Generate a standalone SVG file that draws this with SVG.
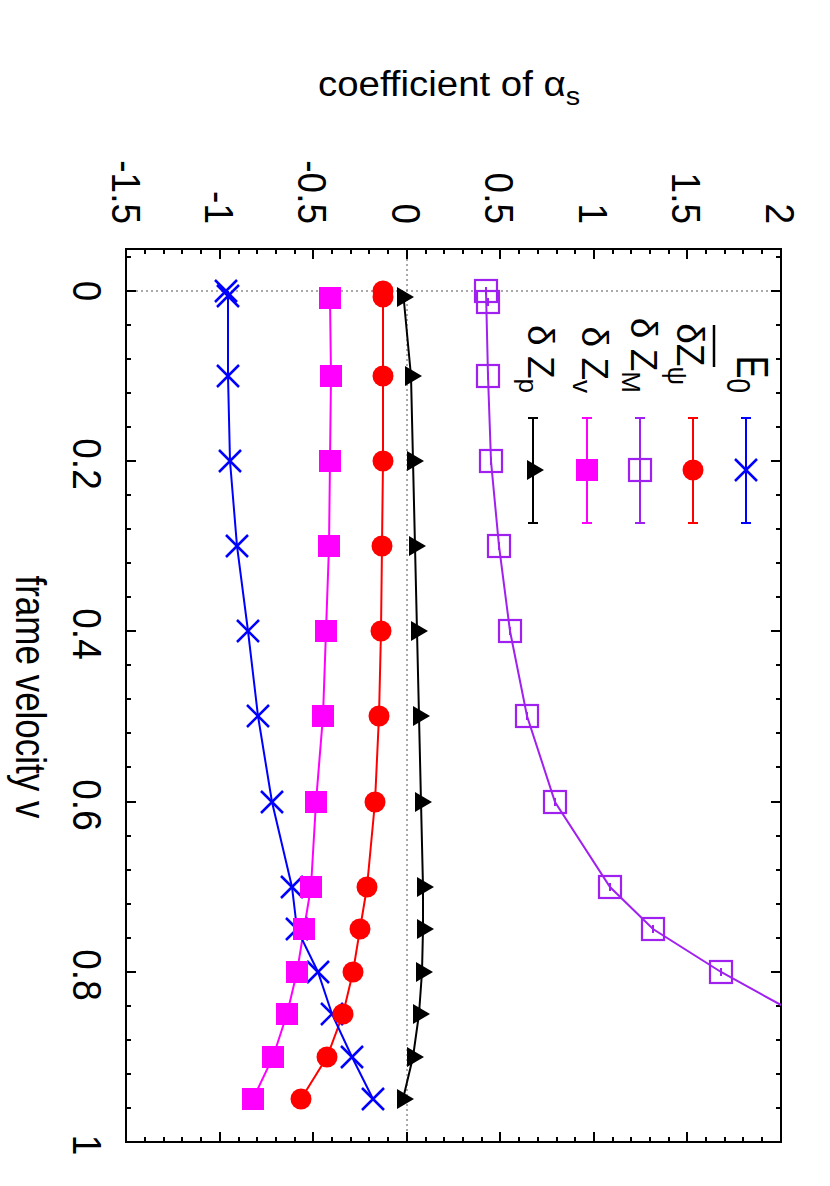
<svg xmlns="http://www.w3.org/2000/svg" width="830" height="1186" viewBox="0 0 830 1186">
<style>
text{font-family:"Liberation Sans",Arial,sans-serif;fill:#000}
.t{font-size:37px}
.lg{font-size:37px}
.ax{stroke:#000;stroke-width:2;fill:none}
.dot{stroke:#555;stroke-width:1;stroke-dasharray:2,3;fill:none}
.ln{fill:none;stroke-width:2}
</style>
<defs>
<path id="xm" d="M-11,-11L11,11M-11,11L11,-11" stroke="#0000ff" stroke-width="2.5" fill="none"/>
<circle id="ci" r="10.5" fill="#ff0000"/>
<rect id="sq" x="-11" y="-11" width="22" height="22" fill="#ff00ff"/>
<g id="os"><rect x="-11" y="-11" width="22" height="22" fill="none" stroke="#a020f0" stroke-width="2.2"/><path d="M0,-4V4" stroke="#a020f0" stroke-width="2"/></g>
<path id="tr" d="M-6,-10L-6,10L11,0Z" fill="#000"/>
</defs>
<g id="frame">
<rect class="ax" x="126" y="249" width="655" height="893"/>
<path class="dot" d="M126,291H781M407,249V1142"/>
<path class="ax" d="M126,291h10M126,461h10M126,631h10M126,802h10M126,972h10M781,291h-10M781,461h-10M781,631h-10M781,802h-10M781,972h-10
M126,257h5M126,325h5M126,359h5M126,393h5M126,427h5M126,495h5M126,529h5M126,563h5M126,597h5M126,665h5M126,699h5M126,733h5M126,767h5M126,836h5M126,870h5M126,904h5M126,938h5M126,1006h5M126,1040h5M126,1074h5M126,1108h5
M781,257h-5M781,325h-5M781,359h-5M781,393h-5M781,427h-5M781,495h-5M781,529h-5M781,563h-5M781,597h-5M781,665h-5M781,699h-5M781,733h-5M781,767h-5M781,836h-5M781,870h-5M781,904h-5M781,938h-5M781,1006h-5M781,1040h-5M781,1074h-5M781,1108h-5
M220,249v10M313,249v10M407,249v10M500,249v10M594,249v10M687,249v10M220,1142v-10M313,1142v-10M407,1142v-10M500,1142v-10M594,1142v-10M687,1142v-10
M145,249v5M164,249v5M182,249v5M201,249v5M239,249v5M257,249v5M276,249v5M295,249v5M332,249v5M351,249v5M369,249v5M388,249v5M426,249v5M444,249v5M463,249v5M482,249v5M519,249v5M538,249v5M557,249v5M575,249v5M613,249v5M631,249v5M650,249v5M669,249v5M706,249v5M725,249v5M743,249v5M762,249v5
M145,1142v-5M164,1142v-5M182,1142v-5M201,1142v-5M239,1142v-5M257,1142v-5M276,1142v-5M295,1142v-5M332,1142v-5M351,1142v-5M369,1142v-5M388,1142v-5M426,1142v-5M444,1142v-5M463,1142v-5M482,1142v-5M519,1142v-5M538,1142v-5M557,1142v-5M575,1142v-5M613,1142v-5M631,1142v-5M650,1142v-5M669,1142v-5M706,1142v-5M725,1142v-5M743,1142v-5M762,1142v-5"/>
</g>
<g id="ticklabels" class="t">
<text transform="translate(73,291) scale(1.1,1) rotate(90)" text-anchor="middle">0</text>
<text transform="translate(73,464) scale(1.1,1) rotate(90)" text-anchor="middle">0.2</text>
<text transform="translate(73,634) scale(1.1,1) rotate(90)" text-anchor="middle">0.4</text>
<text transform="translate(73,805) scale(1.1,1) rotate(90)" text-anchor="middle">0.6</text>
<text transform="translate(73,975) scale(1.1,1) rotate(90)" text-anchor="middle">0.8</text>
<text transform="translate(73,1145) scale(1.1,1) rotate(90)" text-anchor="middle">1</text>
<text transform="translate(112,224) scale(1.1,1) rotate(90)" text-anchor="end">-1.5</text>
<text transform="translate(205,224) scale(1.1,1) rotate(90)" text-anchor="end">-1</text>
<text transform="translate(298,224) scale(1.1,1) rotate(90)" text-anchor="end">-0.5</text>
<text transform="translate(392,224) scale(1.1,1) rotate(90)" text-anchor="end">0</text>
<text transform="translate(485,224) scale(1.1,1) rotate(90)" text-anchor="end">0.5</text>
<text transform="translate(579,224) scale(1.1,1) rotate(90)" text-anchor="end">1</text>
<text transform="translate(672,224) scale(1.1,1) rotate(90)" text-anchor="end">1.5</text>
<text transform="translate(766,224) scale(1.1,1) rotate(90)" text-anchor="end">2</text>
</g>
<g id="axislabels">
<text transform="translate(318,96) scale(1.2,1.1)" font-size="32">coefficient of α<tspan font-size="24" dy="8">s</tspan></text>
<text transform="translate(16,697) scale(1.2,1) rotate(90)" text-anchor="middle" font-size="35">frame velocity v</text>
</g>
<g id="connectors">
<polyline class="ln" stroke="#a020f0" points="486,291 488,376 491,461 499,546 510,631 527,716 555,802 610,887 653,929 721,972 781,1005"/>
<polyline class="ln" stroke="#000" points="403,291 411,376 413,461 415,546 417,631 419,716 421,802 423,887 423,929 422,972 419,1014 413,1057 403,1099"/>
<polyline class="ln" stroke="#ff0000" points="383,291 383,376 383,461 382,546 381,631 379,716 375,802 367,887 360,929 353,972 343,1014 327,1057 301,1099"/>
<polyline class="ln" stroke="#ff00ff" points="330,298 331,376 330,461 329,546 326,631 323,716 316,802 311,887 304,929 297,972 287,1014 273,1057 253,1099"/>
<polyline class="ln" stroke="#0000ff" points="228,291 228,376 230,461 237,546 248,631 258,716 272,802 292,887 297,929 318,972 332,1014 352,1057 373,1099"/>
</g>
<g id="series-E0">
<use href="#xm" x="226" y="291"/><use href="#xm" x="228" y="296"/><use href="#xm" x="228" y="376"/><use href="#xm" x="230" y="461"/><use href="#xm" x="237" y="546"/><use href="#xm" x="248" y="631"/><use href="#xm" x="258" y="716"/><use href="#xm" x="272" y="802"/><use href="#xm" x="292" y="887"/><use href="#xm" x="297" y="929"/><use href="#xm" x="318" y="972"/><use href="#xm" x="332" y="1014"/><use href="#xm" x="352" y="1057"/><use href="#xm" x="373" y="1099"/>
</g>
<g id="series-dZpsi">
<use href="#ci" x="383" y="291"/><use href="#ci" x="383" y="297"/><use href="#ci" x="383" y="376"/><use href="#ci" x="383" y="461"/><use href="#ci" x="382" y="546"/><use href="#ci" x="381" y="631"/><use href="#ci" x="379" y="716"/><use href="#ci" x="375" y="802"/><use href="#ci" x="367" y="887"/><use href="#ci" x="360" y="929"/><use href="#ci" x="353" y="972"/><use href="#ci" x="343" y="1014"/><use href="#ci" x="327" y="1057"/><use href="#ci" x="301" y="1099"/>
</g>
<g id="series-dZv">
<use href="#sq" x="330" y="298"/><use href="#sq" x="331" y="376"/><use href="#sq" x="330" y="461"/><use href="#sq" x="329" y="546"/><use href="#sq" x="326" y="631"/><use href="#sq" x="323" y="716"/><use href="#sq" x="316" y="802"/><use href="#sq" x="311" y="887"/><use href="#sq" x="304" y="929"/><use href="#sq" x="297" y="972"/><use href="#sq" x="287" y="1014"/><use href="#sq" x="273" y="1057"/><use href="#sq" x="253" y="1099"/>
</g>
<g id="series-dZp">
<use href="#tr" x="403" y="297"/><use href="#tr" x="411" y="376"/><use href="#tr" x="413" y="461"/><use href="#tr" x="415" y="546"/><use href="#tr" x="417" y="631"/><use href="#tr" x="419" y="716"/><use href="#tr" x="421" y="802"/><use href="#tr" x="423" y="887"/><use href="#tr" x="423" y="929"/><use href="#tr" x="422" y="972"/><use href="#tr" x="419" y="1014"/><use href="#tr" x="413" y="1057"/><use href="#tr" x="403" y="1099"/>
</g>
<g id="series-dZM">
<use href="#os" x="486" y="291"/><use href="#os" x="488" y="302"/><use href="#os" x="488" y="376"/><use href="#os" x="491" y="461"/><use href="#os" x="499" y="546"/><use href="#os" x="510" y="631"/><use href="#os" x="527" y="716"/><use href="#os" x="555" y="802"/><use href="#os" x="610" y="887"/><use href="#os" x="653" y="929"/><use href="#os" x="721" y="972"/>
</g>
<g id="legend" class="lg">
<g id="leg-E0"><path class="ln" stroke="#0000ff" d="M746,418V523M741,418h10M741,523h10"/><use href="#xm" x="746" y="470"/>
<text transform="translate(737,393) scale(1.3,1) rotate(90)" text-anchor="end" font-size="34">E<tspan font-size="26" dy="8">0</tspan></text></g>
<g id="leg-dZpsi"><path class="ln" stroke="#ff0000" d="M693,418V523M688,418h10M688,523h10"/><use href="#ci" x="693" y="470"/>
<text transform="translate(677,385) scale(1.05,1) rotate(90)" text-anchor="end">δZ<tspan font-size="26" dy="9">ψ</tspan></text>
<path d="M714,325V367" stroke="#000" stroke-width="2.5"/></g>
<g id="leg-dZM"><path class="ln" stroke="#a020f0" d="M640,418V523M635,418h10M635,523h10"/><use href="#os" x="640" y="470"/>
<text transform="translate(631,393) rotate(90)" text-anchor="end">δ Z<tspan font-size="26" dy="9">M</tspan></text></g>
<g id="leg-dZv"><path class="ln" stroke="#ff00ff" d="M587,418V523M582,418h10M582,523h10"/><use href="#sq" x="587" y="470"/>
<text transform="translate(582,393) rotate(90)" text-anchor="end">δ Z<tspan font-size="26" dy="9">v</tspan></text></g>
<g id="leg-dZp"><path class="ln" stroke="#000" d="M533,418V523M528,418h10M528,523h10"/><use href="#tr" x="533" y="470"/>
<text transform="translate(528,393) rotate(90)" text-anchor="end">δ Z<tspan font-size="26" dy="9">p</tspan></text></g>
</g>
</svg>
